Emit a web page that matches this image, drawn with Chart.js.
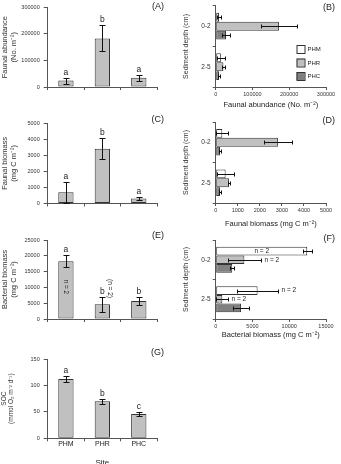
<!DOCTYPE html>
<html>
<head>
<meta charset="utf-8">
<script src="https://cdn.jsdelivr.net/npm/chart.js@4.4.1/dist/chart.umd.min.js"></script>
<style>
  html, body { margin: 0; padding: 0; background: #fff; overflow: hidden; }
  body { width: 341px; height: 464px; position: relative; }
  canvas { position: absolute; }
</style>
</head>
<body>
<canvas id="chart-a" width="170" height="115" style="left:0;top:0"></canvas>
<canvas id="chart-c" width="170" height="110" style="left:0;top:115px"></canvas>
<canvas id="chart-e" width="170" height="115" style="left:0;top:225px"></canvas>
<canvas id="chart-g" width="170" height="128" style="left:0;top:340px"></canvas>
<canvas id="chart-b" width="171" height="109" style="left:170px;top:0"></canvas>
<canvas id="chart-d" width="171" height="113" style="left:170px;top:115px"></canvas>
<canvas id="chart-f" width="171" height="114" style="left:170px;top:225px"></canvas>
<script>
const sites = ["PHM", "PHR", "PHC"];
const depths = ["0-2", "2-5"];

// (A) faunal abundance per site
const abundance = [24000, 183000, 35000];
const abundanceErr = [11000, 49000, 12000];
const abundanceLetters = ["a", "b", "a"];

// (B) faunal abundance per depth
const abundancePHM = [9000, 14000];
const abundancePHMErr = [6000, 10000];
const abundancePHR = [172000, 21000];
const abundancePHRErr = [50000, 4000];
const abundancePHC = [28000, 9000];
const abundancePHCErr = [10000, 3000];

// (C) faunal biomass per site
const biomass = [700, 3420, 315];
const biomassErr = [670, 650, 80];
const biomassLetters = ["a", "b", "a"];

// (D) faunal biomass per depth
const biomassPHM = [300, 450];
const biomassPHMErr = [270, 380];
const biomassPHR = [2820, 600];
const biomassPHRErr = [620, 60];
const biomassPHC = [195, 195];
const biomassPHCErr = [50, 50];

// (E) bacterial biomass per site
const bacteria = [18300, 4700, 5700];
const bacteriaErr = [2000, 2400, 1300];
const bacteriaLetters = ["a", "b", "b"];
const bacteriaNotes = ["n = 2", "(n = 2)", ""];

// (F) bacterial biomass per depth
const bacteriaPHM = [12450, 5700];
const bacteriaPHMErr = [600, 2750];
const bacteriaPHMNotes = ["n = 2", "n = 2"];
const bacteriaPHR = [3900, 900];
const bacteriaPHRErr = [2200, 800];
const bacteriaPHRNotes = ["n = 2", "n = 2"];
const bacteriaPHC = [2250, 3450];
const bacteriaPHCErr = [300, 1100];

// (G) sediment oxygen consumption
const soc = [112, 70, 46];
const socErr = [5.5, 5, 3.5];
const socLetters = ["a", "b", "c"];

const FONT = "'Liberation Sans', Arial, sans-serif";
const AXIS = "#555";
const siteColors = ["#ffffff", "#c0c0c0", "#808080"];
Chart.defaults.font.family = FONT;
Chart.defaults.color = "#222";

// error bars, letters and n notes on top of the bars
const barExtras = {
  id: "barExtras",
  afterDatasetsDraw(chart, args, opts) {
    const ctx = chart.ctx;
    const horiz = chart.options.indexAxis === "y";
    const vScale = horiz ? chart.scales.x : chart.scales.y;
    const area = chart.chartArea;
    chart.data.datasets.forEach((ds, di) => {
      chart.getDatasetMeta(di).data.forEach((bar, i) => {
        const v = ds.data[i];
        const e = ds.errors ? ds.errors[i] : 0;
        const lo = Math.round(vScale.getPixelForValue(Math.max(0, v - e))) + 0.5;
        const hi = Math.round(vScale.getPixelForValue(v + e)) + 0.5;
        ctx.save();
        ctx.strokeStyle = "#111";
        ctx.lineWidth = 1;
        ctx.beginPath();
        if (horiz) {
          const y = Math.round(bar.y) + 0.5;
          ctx.moveTo(lo, y); ctx.lineTo(hi, y);
          ctx.moveTo(lo, y - 2); ctx.lineTo(lo, y + 2);
          ctx.moveTo(hi, y - 2); ctx.lineTo(hi, y + 2);
        } else {
          const x = Math.round(bar.x) + 0.5;
          ctx.moveTo(x, lo); ctx.lineTo(x, hi);
          ctx.moveTo(x - 3, lo); ctx.lineTo(x + 3, lo);
          ctx.moveTo(x - 3, hi); ctx.lineTo(x + 3, hi);
        }
        ctx.stroke();

        ctx.fillStyle = "#222";
        if (ds.letters && ds.letters[i]) {
          ctx.font = "8.5px " + FONT;
          ctx.textAlign = "center";
          ctx.textBaseline = "bottom";
          ctx.fillText(ds.letters[i], bar.x, hi - 1.5);
        }

        const note = ds.notes ? ds.notes[i] : "";
        if (note) {
          ctx.font = "6.5px " + FONT;
          if (horiz) {
            const w = ctx.measureText(note).width;
            ctx.textBaseline = "middle";
            if (hi + 3 + w < area.right) {
              ctx.textAlign = "left";
              ctx.fillText(note, hi + 3, bar.y);
            } else {
              ctx.textAlign = "center";
              ctx.fillText(note, (bar.x + bar.base) / 2, bar.y);
            }
          } else {
            const place = opts.notePlace ? opts.notePlace[i] : "inside";
            ctx.textAlign = "center";
            ctx.textBaseline = "middle";
            if (place === "beside") {
              ctx.translate(bar.x + 7, hi - 9);
            } else {
              ctx.translate(bar.x, (bar.y + bar.base) / 2 - 3);
            }
            ctx.rotate(Math.PI / 2);
            ctx.fillText(note, 0, 0);
          }
        }
        ctx.restore();
      });
    });
  }
};

// "(A)" style panel letters
const panelLabel = {
  id: "panelLabel",
  afterDraw(chart, args, opts) {
    if (!opts.text) return;
    const ctx = chart.ctx;
    ctx.save();
    ctx.font = "9px " + FONT;
    ctx.fillStyle = "#222";
    ctx.textAlign = "right";
    ctx.textBaseline = "middle";
    ctx.fillText(opts.text, opts.x, opts.y);
    ctx.restore();
  }
};

// small boxed legend used in panel (B)
const boxLegend = {
  id: "boxLegend",
  afterDraw(chart, args, opts) {
    if (!opts.show) return;
    const ctx = chart.ctx;
    ctx.save();
    ctx.font = "6px " + FONT;
    ctx.textBaseline = "middle";
    ctx.textAlign = "left";
    chart.data.datasets.forEach((ds, i) => {
      const y = opts.y + i * opts.step;
      ctx.fillStyle = ds.backgroundColor;
      ctx.fillRect(opts.x, y, 8, 8);
      ctx.strokeStyle = "#333";
      ctx.lineWidth = 1;
      ctx.strokeRect(opts.x + 0.5, y + 0.5, 8, 8);
      ctx.fillStyle = "#222";
      ctx.fillText(ds.label, opts.x + 11, y + 4.5);
    });
    ctx.restore();
  }
};

Chart.register(barExtras, panelLabel, boxLegend);

const verticalChart = (id, values, errors, letters, cfg) => new Chart(document.getElementById(id), {
  type: "bar",
  data: {
    labels: sites,
    datasets: [{
      data: values,
      errors: errors,
      letters: letters,
      notes: cfg.notes,
      backgroundColor: "#c0c0c0",
      borderColor: "#333",
      borderWidth: 1,
      borderSkipped: false,
      barPercentage: 0.42,
      categoryPercentage: 1,
    }],
  },
  options: {
    responsive: false,
    animation: false,
    devicePixelRatio: 1,
    layout: { padding: { top: cfg.top, right: 13, left: 0, bottom: 0 } },
    plugins: {
      legend: { display: false },
      tooltip: { enabled: false },
      panelLabel: { text: cfg.panel, x: 164, y: cfg.panelY },
      barExtras: { notePlace: cfg.notePlace },
    },
    scales: {
      x: {
        grid: { offset: true, drawOnChartArea: false, tickLength: 3, color: AXIS },
        border: { color: AXIS },
        ticks: { display: !!cfg.showSites, font: { size: 7 }, padding: -1, color: "#222" },
        title: cfg.xTitle
          ? { display: true, text: cfg.xTitle, font: { size: 8 }, padding: 0 }
          : { display: false },
        afterFit: (s) => { s.height = cfg.xHeight; },
      },
      y: {
        min: 0,
        max: cfg.max,
        ticks: { stepSize: cfg.step, font: { size: 5.5 }, padding: 4, color: "#333", callback: (v) => v },
        grid: { drawOnChartArea: false, tickLength: 4, color: AXIS },
        border: { color: AXIS },
        title: { display: true, text: cfg.yTitle, font: { size: cfg.yTitleSize || 7.5 }, padding: { top: 0, bottom: 0 }, color: "#333" },
        afterFit: (s) => { s.width = 47.7; },
      },
    },
  },
});

const horizontalChart = (id, series, cfg) => new Chart(document.getElementById(id), {
  type: "bar",
  data: {
    labels: depths,
    datasets: series.map((s, k) => ({
      label: sites[k],
      data: s.values,
      errors: s.errors,
      notes: s.notes,
      backgroundColor: siteColors[k],
      borderColor: "#333",
      borderWidth: 1,
      borderSkipped: false,
      barPercentage: 1,
      categoryPercentage: 0.66,
    })),
  },
  options: {
    indexAxis: "y",
    responsive: false,
    animation: false,
    devicePixelRatio: 1,
    layout: { padding: { top: cfg.top, right: 15, left: 12, bottom: 0 } },
    plugins: {
      legend: { display: false },
      tooltip: { enabled: false },
      panelLabel: { text: cfg.panel, x: 165, y: cfg.panelY },
      boxLegend: { show: !!cfg.legend, x: 126.5, y: 45, step: 13.5 },
    },
    scales: {
      x: {
        min: 0,
        max: cfg.max,
        ticks: { stepSize: cfg.step, font: { size: 5.5 }, padding: 1, color: "#333", maxRotation: 0, callback: (v) => v },
        grid: { drawOnChartArea: false, tickLength: 3, color: AXIS },
        border: { color: AXIS },
        title: { display: true, text: cfg.xTitle, font: { size: 7.5 }, padding: 0, color: "#222" },
        afterFit: (s) => { s.height = cfg.xHeight; },
      },
      y: {
        ticks: { font: { size: 6.5 }, padding: 2, color: "#333" },
        grid: { offset: true, drawOnChartArea: false, tickLength: 3, color: AXIS },
        border: { color: AXIS },
        title: { display: true, text: "Sediment depth (cm)", font: { size: 7 }, padding: 0, color: "#333" },
        afterFit: (s) => { s.width = 33.7; },
      },
    },
  },
});

verticalChart("chart-a", abundance, abundanceErr, abundanceLetters, {
  top: 7.3, xHeight: 28, max: 300000, step: 100000,
  yTitle: ["Faunal abundance", "(No. m⁻²)"], panel: "(A)", panelY: 7,
});
verticalChart("chart-c", biomass, biomassErr, biomassLetters, {
  top: 8.3, xHeight: 21.5, max: 5000, step: 1000,
  yTitle: ["Faunal biomass", "(mg C m⁻²)"], panel: "(C)", panelY: 5,
});
verticalChart("chart-e", bacteria, bacteriaErr, bacteriaLetters, {
  top: 15, xHeight: 21, max: 25000, step: 5000,
  yTitle: ["Bacterial biomass", "(mg C m⁻²)"], panel: "(E)", panelY: 11,
  notes: bacteriaNotes, notePlace: ["inside", "beside", ""],
});
verticalChart("chart-g", soc, socErr, socLetters, {
  top: 19, xHeight: 29.7, max: 150, step: 50, showSites: true, xTitle: "Site",
  yTitle: ["SOC", "(mmol O₂ m⁻² d⁻¹)"], yTitleSize: 6.5, panel: "(G)", panelY: 13,
});

horizontalChart("chart-b", [
  { values: abundancePHM, errors: abundancePHMErr },
  { values: abundancePHR, errors: abundancePHRErr },
  { values: abundancePHC, errors: abundancePHCErr },
], {
  top: 5, xHeight: 22, max: 300000, step: 100000, legend: true,
  xTitle: "Faunal abundance (No. m⁻²)", panel: "(B)", panelY: 7.5,
});
horizontalChart("chart-d", [
  { values: biomassPHM, errors: biomassPHMErr },
  { values: biomassPHR, errors: biomassPHRErr },
  { values: biomassPHC, errors: biomassPHCErr },
], {
  top: 7, xHeight: 25, max: 5000, step: 1000,
  xTitle: "Faunal biomass (mg C m⁻²)", panel: "(D)", panelY: 5.5,
});
horizontalChart("chart-f", [
  { values: bacteriaPHM, errors: bacteriaPHMErr, notes: bacteriaPHMNotes },
  { values: bacteriaPHR, errors: bacteriaPHRErr, notes: bacteriaPHRNotes },
  { values: bacteriaPHC, errors: bacteriaPHCErr },
], {
  top: 15, xHeight: 20, max: 15000, step: 5000,
  xTitle: "Bacterial biomass (mg C m⁻²)", panel: "(F)", panelY: 14,
});
</script>
</body>
</html>
